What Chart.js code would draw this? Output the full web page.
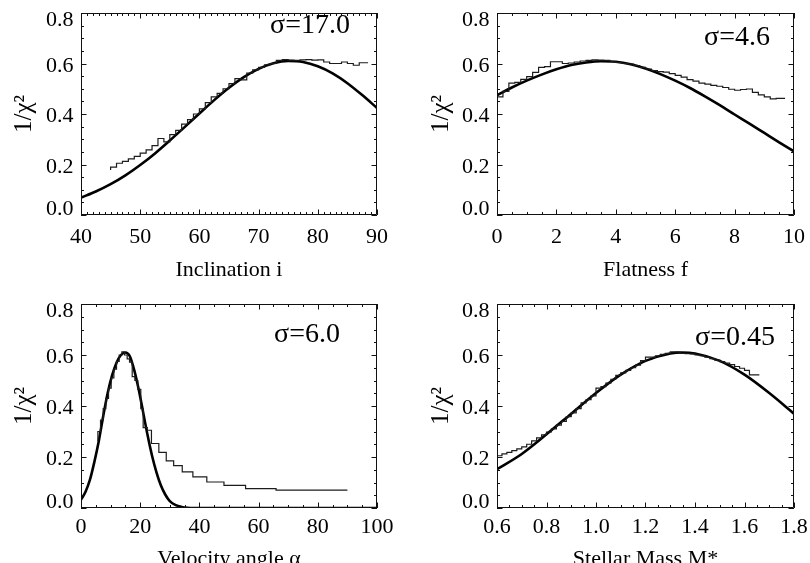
<!DOCTYPE html>
<html>
<head>
<meta charset="utf-8">
<script src="https://cdn.jsdelivr.net/npm/chart.js@4/dist/chart.umd.min.js"></script>
<style>
  html, body { margin: 0; padding: 0; background: #fff; width: 810px; height: 563px; overflow: hidden; }
  body { position: relative; }
  canvas { position: absolute; display: block; }
</style>
</head>
<body>
<canvas id="pInc" width="405" height="281" style="left:0px;top:0px;width:405px;height:281px"></canvas>
<canvas id="pFlat" width="405" height="281" style="left:405px;top:0px;width:405px;height:281px"></canvas>
<canvas id="pVel" width="405" height="290" style="left:0px;top:281px;width:405px;height:290px"></canvas>
<canvas id="pMass" width="405" height="290" style="left:405px;top:281px;width:405px;height:290px"></canvas>
<script>
// ---------------- data ----------------
const yTickValues = [0.0, 0.2, 0.4, 0.6, 0.8];

// Panel: Inclination i
const incTicks = [40, 50, 60, 70, 80, 90];
const incCurveX = [40, 42.5, 45, 47.5, 50, 52.5, 55, 57.5, 60, 62.5, 65, 67.5, 70, 72.5, 75, 77.5, 80, 82.5, 85, 87.5, 90];
const incCurveY = [0.069, 0.093, 0.122, 0.157, 0.198, 0.244, 0.295, 0.348, 0.402, 0.455, 0.504, 0.546, 0.579, 0.601, 0.610, 0.606, 0.589, 0.561, 0.522, 0.475, 0.424];
const incStepX = [45, 46, 47, 48, 49, 50, 51, 52, 53, 54, 55, 56, 57, 58, 59, 60, 61, 62, 63, 64, 65, 66, 67, 68, 69, 70, 71, 72, 73, 74, 75, 76, 77, 78, 79, 80, 81, 82, 83, 84, 85, 86, 87, 88, 88.5];
const incStepY = [0.178, 0.190, 0.205, 0.212, 0.222, 0.232, 0.245, 0.258, 0.275, 0.303, 0.290, 0.318, 0.335, 0.360, 0.378, 0.400, 0.420, 0.445, 0.468, 0.482, 0.500, 0.520, 0.540, 0.535, 0.562, 0.575, 0.585, 0.595, 0.600, 0.612, 0.615, 0.613, 0.612, 0.614, 0.615, 0.613, 0.614, 0.606, 0.600, 0.600, 0.606, 0.600, 0.593, 0.603, 0.603];

// Panel: Flatness f
const flatTicks = [0, 2, 4, 6, 8, 10];
const flatCurveX = [0, 0.5, 1, 1.5, 2, 2.5, 3, 3.5, 4, 4.5, 5, 5.5, 6, 6.5, 7, 7.5, 8, 8.5, 9, 9.5, 10];
const flatCurveY = [0.474, 0.505, 0.532, 0.556, 0.577, 0.594, 0.604, 0.609, 0.607, 0.597, 0.580, 0.558, 0.532, 0.503, 0.470, 0.435, 0.398, 0.362, 0.325, 0.288, 0.252];
const flatStepX = [0.0, 0.2, 0.4, 0.6, 0.8, 1.0, 1.2, 1.4, 1.6, 1.8, 2.0, 2.2, 2.4, 2.6, 2.8, 3.0, 3.2, 3.4, 3.6, 3.8, 4.0, 4.2, 4.4, 4.6, 4.8, 5.0, 5.2, 5.4, 5.6, 5.8, 6.0, 6.2, 6.4, 6.6, 6.8, 7.0, 7.2, 7.4, 7.6, 7.8, 8.0, 8.2, 8.4, 8.6, 8.8, 9.0, 9.2, 9.4, 9.6, 9.7];
const flatStepY = [0.440, 0.468, 0.490, 0.522, 0.525, 0.537, 0.548, 0.565, 0.585, 0.588, 0.607, 0.607, 0.600, 0.602, 0.606, 0.610, 0.612, 0.614, 0.613, 0.612, 0.607, 0.604, 0.600, 0.598, 0.592, 0.585, 0.578, 0.572, 0.568, 0.566, 0.560, 0.553, 0.546, 0.536, 0.530, 0.522, 0.518, 0.513, 0.510, 0.505, 0.498, 0.494, 0.497, 0.499, 0.486, 0.476, 0.468, 0.460, 0.462, 0.462];

// Panel: Velocity angle alpha
const velTicks = [0, 20, 40, 60, 80, 100];
const velCurveX = [0, 1.5, 3, 4.5, 6, 7.5, 9, 10.5, 12, 13.5, 15, 16.5, 18, 19.5, 21, 22.5, 24, 25.5, 27, 28.5, 30, 32, 34, 36, 38, 100];
const velCurveY = [0.033, 0.063, 0.110, 0.180, 0.262, 0.360, 0.450, 0.520, 0.570, 0.600, 0.610, 0.595, 0.540, 0.465, 0.375, 0.285, 0.205, 0.140, 0.088, 0.052, 0.027, 0.011, 0.004, 0.001, 0, 0];
const velStepX = [5.7, 6.6, 7.5, 8.4, 9.3, 10.2, 11.1, 12.0, 12.9, 13.8, 14.7, 15.6, 16.4, 17.3, 18.2, 19.2, 20.2, 21.0, 22.4, 23.8, 26.3, 28.8, 31.3, 34.2, 37.8, 42.5, 48.3, 55.6, 65.9, 80.9, 90.0];
const velStepY = [0.262, 0.300, 0.345, 0.390, 0.430, 0.470, 0.510, 0.545, 0.575, 0.600, 0.612, 0.600, 0.585, 0.572, 0.515, 0.500, 0.465, 0.390, 0.315, 0.305, 0.253, 0.218, 0.185, 0.166, 0.142, 0.122, 0.102, 0.089, 0.076, 0.070, 0.070];

// Panel: Stellar Mass
const massTicks = [0.6, 0.8, 1.0, 1.2, 1.4, 1.6, 1.8];
const massCurveX = [0.6, 0.7, 0.8, 0.9, 1.0, 1.1, 1.2, 1.3, 1.35, 1.4, 1.5, 1.6, 1.7, 1.8];
const massCurveY = [0.152, 0.212, 0.289, 0.370, 0.451, 0.523, 0.577, 0.606, 0.610, 0.606, 0.577, 0.523, 0.451, 0.370];
const massStepX = [0.60, 0.62, 0.64, 0.66, 0.68, 0.70, 0.72, 0.74, 0.76, 0.78, 0.80, 0.82, 0.84, 0.86, 0.88, 0.90, 0.92, 0.94, 0.96, 0.98, 1.00, 1.02, 1.04, 1.06, 1.08, 1.10, 1.12, 1.14, 1.16, 1.18, 1.20, 1.22, 1.24, 1.26, 1.28, 1.30, 1.32, 1.34, 1.36, 1.38, 1.40, 1.42, 1.44, 1.46, 1.48, 1.50, 1.52, 1.54, 1.56, 1.58, 1.60, 1.62, 1.64, 1.66];
const massStepY = [0.198, 0.205, 0.212, 0.218, 0.225, 0.232, 0.240, 0.250, 0.263, 0.275, 0.287, 0.298, 0.310, 0.325, 0.340, 0.358, 0.373, 0.390, 0.412, 0.425, 0.440, 0.470, 0.476, 0.490, 0.505, 0.520, 0.530, 0.540, 0.550, 0.560, 0.578, 0.592, 0.592, 0.597, 0.603, 0.606, 0.612, 0.612, 0.606, 0.605, 0.604, 0.600, 0.597, 0.592, 0.586, 0.580, 0.574, 0.568, 0.562, 0.555, 0.548, 0.540, 0.522, 0.522];

// ---------------- rendering ----------------
const SERIF = '"Liberation Serif", "Times New Roman", Times, serif';
Chart.defaults.font.family = SERIF;
Chart.defaults.color = '#000';

const frameTicks = {
  id: 'frameTicks',
  beforeDraw(chart) {
    try {
      const ys = chart.scales.y;
      const items = ys.getLabelItems();
      if (items && !items._shifted) {
        items._shifted = true;
        const n = items.length;
        items.forEach((it, i) => {
          const d = i === 0 ? -5.5 : (i === n - 1 ? 7 : 2.5);
          it.options.translation[1] += d;
        });
      }
    } catch (e) {}
  },
  afterDraw(chart, args, o) {
    const { ctx, chartArea: a } = chart;
    const xs = chart.scales.x, ys = chart.scales.y;
    ctx.save();
    ctx.strokeStyle = '#111';
    ctx.lineWidth = 1;
    ctx.beginPath();
    ctx.rect(a.left + 0.5, a.top + 0.5, a.right - a.left - 1, a.bottom - a.top - 1);
    const major = 5.5, minor = 3;
    const xt = o.xTicks;
    for (let i = 0; i < xt.length; i++) {
      const px = Math.round(xs.getPixelForValue(xt[i])) + 0.5;
      ctx.moveTo(px, a.bottom); ctx.lineTo(px, a.bottom - major);
      ctx.moveTo(px, a.top); ctx.lineTo(px, a.top + major);
      if (i < xt.length - 1) {
        for (let k = 1; k < o.xMinor; k++) {
          const v = xt[i] + (xt[i + 1] - xt[i]) * k / o.xMinor;
          const p = Math.round(xs.getPixelForValue(v)) + 0.5;
          ctx.moveTo(p, a.bottom); ctx.lineTo(p, a.bottom - minor);
          ctx.moveTo(p, a.top); ctx.lineTo(p, a.top + minor);
        }
      }
    }
    const yt = yTickValues;
    for (let i = 0; i < yt.length; i++) {
      const py = Math.round(ys.getPixelForValue(yt[i])) + 0.5;
      ctx.moveTo(a.left, py); ctx.lineTo(a.left + major, py);
      ctx.moveTo(a.right, py); ctx.lineTo(a.right - major, py);
      if (i < yt.length - 1) {
        for (let k = 1; k < 4; k++) {
          const v = yt[i] + (yt[i + 1] - yt[i]) * k / 4;
          const p = Math.round(ys.getPixelForValue(v)) + 0.5;
          ctx.moveTo(a.left, p); ctx.lineTo(a.left + minor, p);
          ctx.moveTo(a.right, p); ctx.lineTo(a.right - minor, p);
        }
      }
    }
    ctx.stroke();
    // sigma annotation
    ctx.fillStyle = '#000';
    ctx.font = '28px ' + SERIF;
    ctx.textAlign = 'right';
    ctx.textBaseline = 'alphabetic';
    ctx.fillText(o.sigma, a.right - o.sRight, a.top + o.sBase);
    ctx.restore();
  }
};

function pts(xs, ys) { return xs.map((x, i) => ({ x: x, y: ys[i] })); }
function noPad(s) { s.paddingTop = 0; s.paddingBottom = 0; s.paddingLeft = 0; s.paddingRight = 0; }

function panel(id, p) {
  const canvas = document.getElementById(id);
  return new Chart(canvas, {
    type: 'line',
    data: {
      datasets: [
        { data: pts(p.stepX, p.stepY), stepped: 'after', borderColor: '#1c1c1c', borderWidth: 1.2, pointRadius: 0, fill: false },
        { data: pts(p.curveX, p.curveY), borderColor: '#000', borderWidth: 2.6, pointRadius: 0, fill: false, cubicInterpolationMode: 'monotone' }
      ]
    },
    options: {
      responsive: false,
      animation: false,
      events: [],
      layout: { padding: { left: 0, top: p.padTop, right: p.padRight, bottom: 0 } },
      plugins: {
        legend: { display: false },
        tooltip: { enabled: false },
        frameTicks: { xTicks: p.ticks, xMinor: p.xMinor, sigma: p.sigma, sRight: p.sRight, sBase: p.sBase }
      },
      scales: {
        x: {
          type: 'linear',
          min: p.ticks[0], max: p.ticks[p.ticks.length - 1],
          grid: { display: false, drawTicks: false },
          border: { display: false },
          afterBuildTicks: s => { s.ticks = p.ticks.map(v => ({ value: v })); },
          afterFit: s => { s.height = p.xHeight; noPad(s); },
          ticks: {
            padding: p.xLabelPad, maxRotation: 0, autoSkip: false,
            font: { size: 22, lineHeight: 1 }, color: '#000',
            callback: v => p.fmt(v)
          },
          title: { display: true, text: p.xTitle, font: { size: 22, lineHeight: 1 }, color: '#000', padding: { top: 0, bottom: p.xTitlePad } }
        },
        y: {
          type: 'linear', min: 0, max: 0.8,
          grid: { display: false, drawTicks: false },
          border: { display: false },
          afterBuildTicks: s => { s.ticks = yTickValues.map(v => ({ value: v })); },
          afterFit: s => { s.width = p.yWidth; noPad(s); },
          ticks: {
            padding: 7.5, autoSkip: false,
            font: { size: 22, lineHeight: 1 }, color: '#000',
            callback: v => Number(v).toFixed(1)
          },
          title: { display: true, text: '1/χ²', font: { size: 25, lineHeight: 1 }, color: '#000', padding: { top: p.yTitlePad, bottom: 0 } }
        }
      }
    },
    plugins: [frameTicks]
  });
}

const intFmt = v => String(Math.round(v));
const oneFmt = v => Number(v).toFixed(1);

panel('pInc', {
  stepX: incStepX, stepY: incStepY, curveX: incCurveX, curveY: incCurveY,
  ticks: incTicks, xMinor: 10, fmt: intFmt, xTitle: 'Inclination i', sigma: 'σ=17.0',
  padTop: 13, padRight: 28, yWidth: 81, xHeight: 66, xLabelPad: 11, xTitlePad: 0, yTitlePad: 11.5,
  sRight: 27, sBase: 20
});
panel('pFlat', {
  stepX: flatStepX, stepY: flatStepY, curveX: flatCurveX, curveY: flatCurveY,
  ticks: flatTicks, xMinor: 4, fmt: intFmt, xTitle: 'Flatness f', sigma: 'σ=4.6',
  padTop: 13, padRight: 16, yWidth: 92, xHeight: 66, xLabelPad: 11, xTitlePad: 0, yTitlePad: 23.5,
  sRight: 24, sBase: 32
});
panel('pVel', {
  stepX: velStepX, stepY: velStepY, curveX: velCurveX, curveY: velCurveY,
  ticks: velTicks, xMinor: 4, fmt: intFmt, xTitle: 'Velocity angle α', sigma: 'σ=6.0',
  padTop: 23, padRight: 28, yWidth: 81, xHeight: 63, xLabelPad: 8.5, xTitlePad: 1, yTitlePad: 11.5,
  sRight: 37, sBase: 38
});
panel('pMass', {
  stepX: massStepX, stepY: massStepY, curveX: massCurveX, curveY: massCurveY,
  ticks: massTicks, xMinor: 4, fmt: oneFmt, xTitle: 'Stellar Mass M*', sigma: 'σ=0.45',
  padTop: 23, padRight: 16, yWidth: 92, xHeight: 63, xLabelPad: 8.5, xTitlePad: 1, yTitlePad: 23.5,
  sRight: 19, sBase: 41
});
</script>
</body>
</html>
